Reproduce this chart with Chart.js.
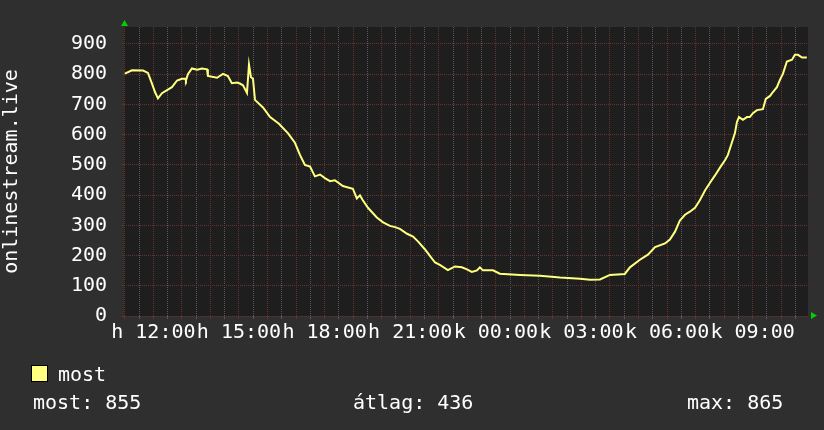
<!DOCTYPE html>
<html>
<head>
<meta charset="utf-8">
<script src="https://cdn.jsdelivr.net/npm/chart.js@4.4.1/dist/chart.umd.min.js"></script>
<style>
body { margin: 0; background: #2f2f2f; }
#wrap { position: relative; width: 824px; height: 430px; background: #2f2f2f; font-family: "DejaVu Sans Mono", monospace; font-size: 20px; color: #fff; }
#wrap canvas { position: absolute; left: 0; top: 0; }
.txt { position: absolute; line-height: 24px; white-space: pre; }
.box { position: absolute; left: 31px; top: 365px; width: 15px; height: 15px; background: #ffff80; border: 1px solid #000; }
</style>
</head>
<body>
<div id="wrap">
    <canvas id="chartMost" width="824" height="430"></canvas>
    <div class="box"></div>
    <div class="txt" style="left:58px; top:362px">most</div>
    <div class="txt" style="left:33px; top:390px">most: 855</div>
    <div class="txt" style="left:353px; top:390px">átlag: 436</div>
    <div class="txt" style="left:687px; top:390px">max: 865</div>
</div>
<script>
// idő (óra, 24 felett = másnap) és érték
const times = [
    11.00, 11.25, 11.64, 11.81, 11.95, 12.06, 12.16, 12.30, 12.65, 12.83,
    13.00, 13.11, 13.14, 13.21, 13.35, 13.53, 13.70, 13.88, 13.91, 14.23,
    14.44, 14.61, 14.75, 14.93, 15.03, 15.14, 15.28, 15.35, 15.42, 15.49,
    15.56, 15.84, 16.09, 16.40, 16.72, 16.96, 17.14, 17.31, 17.49, 17.66,
    17.84, 18.01, 18.19, 18.36, 18.64, 18.99, 19.13, 19.24, 19.34, 19.52,
    19.83, 20.05, 20.29, 20.47, 20.64, 20.89, 21.10, 21.27, 21.52, 21.69,
    21.87, 22.04, 22.32, 22.57, 22.81, 22.99, 23.16, 23.34, 23.44, 23.55,
    23.90, 24.14, 24.85, 25.55, 26.25, 26.95, 27.30, 27.65, 28.00, 28.52,
    28.70, 29.05, 29.33, 29.58, 29.93, 30.10, 30.28, 30.45, 30.63, 30.80,
    30.98, 31.15, 31.33, 31.50, 31.68, 31.85, 32.03, 32.13, 32.27, 32.38,
    32.45, 32.52, 32.66, 32.80, 32.90, 33.01, 33.15, 33.36, 33.46, 33.61,
    33.71, 33.85, 33.96, 34.06, 34.20, 34.38, 34.48, 34.59, 34.73, 34.90
];
const mostValues = [
    802, 813, 812, 804, 769, 740, 720, 737, 757, 779,
    785, 785, 779, 800, 819, 815, 819, 816, 794, 788,
    801, 794, 770, 772, 769, 763, 738, 832, 790, 785,
    715, 690, 658, 636, 604, 573, 532, 500, 494, 462,
    468, 456, 446, 449, 430, 421, 389, 399, 383, 358,
    326, 310, 298, 294, 288, 272, 263, 247, 220, 199,
    177, 169, 152, 164, 161, 154, 146, 151, 161, 151,
    151, 140, 136, 133, 127, 123, 120, 121, 136, 139,
    161, 186, 203, 228, 240, 253, 279, 316, 335, 345,
    358, 383, 415, 440, 465, 490, 515, 532, 573, 605,
    642, 658, 649, 658, 658, 671, 681, 684, 718, 728,
    741, 757, 782, 801, 842, 848, 864, 864, 855, 855
];

// tengely feliratok
const xLabelHours = [12, 15, 18, 21, 24, 27, 30, 33];
const xTickLabels = ['h 12:00', 'h 15:00', 'h 18:00', 'h 21:00', 'k 00:00', 'k 03:00', 'k 06:00', 'k 09:00'];
const yTickValues = [0, 100, 200, 300, 400, 500, 600, 700, 800, 900];
const yTickLabels = ['0', '100', '200', '300', '400', '500', '600', '700', '800', '900'];

// rács: félóránként / 20-anként
const halfHours = [];
for (let h = 11; h <= 34.5; h += 0.5) halfHours.push(h);
const steps20 = [];
for (let v = 0; v <= 940; v += 20) steps20.push(v);

const font = { family: 'DejaVu Sans Mono', size: 20 };
const minorColor = '#5a5a5a';
const majorColor = '#6a3030';

const plotBg = {
    id: 'plotBg',
    beforeDraw(chart) {
        const { ctx, chartArea: a } = chart;
        ctx.save();
        ctx.fillStyle = '#1e1e1e';
        ctx.fillRect(a.left, a.top, a.right - a.left, a.bottom - a.top);
        ctx.restore();
    },
    afterDraw(chart) {
        // zöld nyilak a tengelyek végén
        const { ctx, chartArea: a } = chart;
        ctx.save();
        ctx.fillStyle = '#00d000';
        ctx.beginPath();
        ctx.moveTo(a.left - 3, a.top - 1);
        ctx.lineTo(a.left + 4, a.top - 1);
        ctx.lineTo(a.left + 0.5, a.top - 7);
        ctx.closePath();
        ctx.fill();
        ctx.beginPath();
        ctx.moveTo(a.right + 3, a.bottom - 4);
        ctx.lineTo(a.right + 3, a.bottom + 3);
        ctx.lineTo(a.right + 9, a.bottom - 0.5);
        ctx.closePath();
        ctx.fill();
        ctx.restore();
    }
};

new Chart(document.getElementById('chartMost'), {
    type: 'line',
    data: {
        datasets: [{
            label: 'most',
            data: times.map((t, i) => ({ x: t, y: mostValues[i] })),
            borderColor: '#ffff80',
            borderWidth: 2,
            pointRadius: 0,
            tension: 0,
            fill: false
        }]
    },
    options: {
        responsive: false,
        animation: false,
        devicePixelRatio: 1,
        layout: { padding: { left: 0, top: 14, right: 16, bottom: 84 } },
        plugins: {
            legend: { display: false },
            tooltip: { enabled: false }
        },
        scales: {
            x: {
                type: 'linear',
                min: 10.97,
                max: 34.94,
                afterBuildTicks: s => { s.ticks = halfHours.map(v => ({ value: v })); },
                afterFit: s => { s.height = 30; },
                grid: {
                    color: ctx => (ctx.tick && Number.isInteger(ctx.tick.value)) ? majorColor : minorColor,
                    lineWidth: 1,
                    tickLength: 3
                },
                border: { display: false, dash: [1, 1] },
                ticks: {
                    autoSkip: false,
                    maxRotation: 0,
                    padding: 2,
                    color: '#ffffff',
                    font: font,
                    callback: v => {
                        const i = xLabelHours.indexOf(v);
                        return i < 0 ? '' : xTickLabels[i];
                    }
                }
            },
            y: {
                min: 0,
                max: 956,
                afterBuildTicks: s => { s.ticks = steps20.map(v => ({ value: v })); },
                afterFit: s => { s.width = 124; },
                grid: {
                    color: ctx => (ctx.tick && ctx.tick.value % 100 === 0) ? majorColor : minorColor,
                    lineWidth: 1,
                    tickLength: 2
                },
                border: { display: false, dash: [1, 1] },
                ticks: {
                    padding: 15,
                    color: '#ffffff',
                    font: font,
                    callback: v => {
                        const i = yTickValues.indexOf(v);
                        return i < 0 ? '' : yTickLabels[i];
                    }
                },
                title: {
                    display: true,
                    text: 'onlinestream.live',
                    color: '#ffffff',
                    font: font,
                    padding: { top: 0, bottom: 0 }
                }
            }
        }
    },
    plugins: [plotBg]
});
</script>
</body>
</html>
